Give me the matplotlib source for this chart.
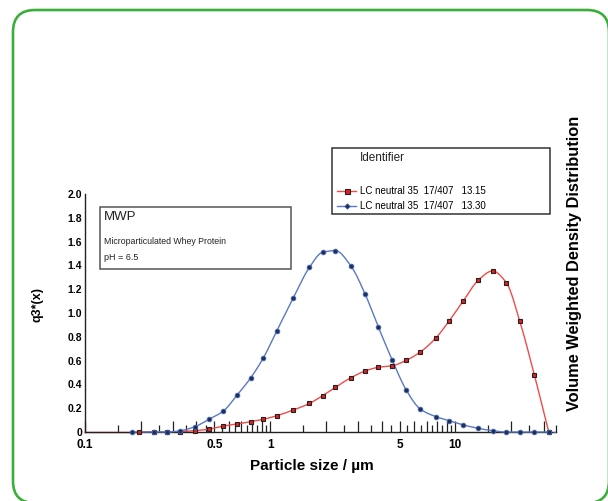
import numpy as np
import matplotlib
matplotlib.use("Agg")
import matplotlib.pyplot as plt
from matplotlib.patches import FancyBboxPatch, Rectangle
from matplotlib.lines import Line2D
from matplotlib.ticker import FixedLocator, NullFormatter
from matplotlib.transforms import IdentityTransform

plt.rcParams["font.family"] = ["Liberation Sans", "DejaVu Sans"]

# ---- data -----------------------------------------------------------------
# particle size classes (µm) and volume density q3*(x)
size_a = [0.196, 0.236, 0.279, 0.326, 0.393, 0.470, 0.559, 0.661, 0.786, 0.920,
          1.087, 1.336, 1.631, 1.918, 2.254, 2.731, 3.263, 3.845, 4.571, 5.433,
          6.47, 7.86, 9.28, 11.07, 13.31, 15.89, 18.87, 22.27, 26.74, 32.0]
q3_a = [0.0, 0.0, 0.0, 0.004, 0.011, 0.025, 0.05, 0.067, 0.087, 0.107,
        0.137, 0.185, 0.24, 0.305, 0.376, 0.456, 0.513, 0.544, 0.557, 0.602,
        0.672, 0.790, 0.935, 1.103, 1.275, 1.353, 1.255, 0.935, 0.479, 0.0]

size_b = [0.179, 0.236, 0.279, 0.326, 0.393, 0.470, 0.559, 0.661, 0.786, 0.920,
          1.087, 1.336, 1.631, 1.918, 2.254, 2.731, 3.263, 3.845, 4.571, 5.433,
          6.47, 7.86, 9.28, 11.07, 13.31, 15.89, 18.87, 22.27, 26.74, 32.0]
q3_b = [0.0, 0.0, 0.0, 0.01, 0.045, 0.109, 0.176, 0.308, 0.456, 0.624,
        0.851, 1.129, 1.384, 1.510, 1.524, 1.395, 1.157, 0.880, 0.603, 0.353,
        0.193, 0.129, 0.095, 0.059, 0.031, 0.011, 0.0, 0.0, 0.0, 0.0]

label_a = "LC neutral 35  17/407   13.15"
label_b = "LC neutral 35  17/407   13.30"

x_ticks = [0.1, 0.5, 1, 5, 10]
x_ticklabels = ["0.1", "0.5", "1", "5", "10"]
y_ticks = [0, 0.2, 0.4, 0.6, 0.8, 1.0, 1.2, 1.4, 1.6, 1.8, 2.0]
y_ticklabels = ["0", "0.2", "0.4", "0.6", "0.8", "1.0", "1.2", "1.4", "1.6", "1.8", "2.0"]
XMIN, XMAX = 0.1, 35.0

RED = "#f24a4a"
BLUE = "#5a78c4"
NAVY = "#1d2f5e"
GREEN = "#3cae3c"

W, H = 608, 501


def smooth_curve(xs, ys, n=12):
    """Monotone cubic (PCHIP) curve through the points, in log-x space."""
    lx = np.log10(np.asarray(xs, float))
    y = np.asarray(ys, float)
    h = np.diff(lx)
    d = np.diff(y) / h
    m = np.zeros_like(y)
    for i in range(1, len(y) - 1):
        if d[i - 1] * d[i] > 0:
            w1 = 2 * h[i] + h[i - 1]
            w2 = h[i] + 2 * h[i - 1]
            m[i] = (w1 + w2) / (w1 / d[i - 1] + w2 / d[i])
    m[0], m[-1] = d[0], d[-1]
    out_x, out_y = [], []
    for i in range(len(y) - 1):
        t = np.linspace(0, 1, n, endpoint=False)
        h00 = 2 * t**3 - 3 * t**2 + 1
        h10 = t**3 - 2 * t**2 + t
        h01 = -2 * t**3 + 3 * t**2
        h11 = t**3 - t**2
        out_x.append(lx[i] + t * h[i])
        out_y.append(h00 * y[i] + h10 * h[i] * m[i] + h01 * y[i + 1] + h11 * h[i] * m[i + 1])
    out_x.append([lx[-1]])
    out_y.append([y[-1]])
    return 10 ** np.concatenate(out_x), np.concatenate(out_y)


fig = plt.figure(figsize=(W / 100, H / 100), dpi=100)
ax = fig.add_axes([85 / W, 1 - 432 / H, (556 - 85) / W, (432 - 194) / H])
ax.set_xscale("log")
ax.set_xlim(XMIN, XMAX)
ax.set_ylim(0, 2.0)

# curves
cx, cy = smooth_curve(size_a, q3_a)
ax.plot([XMIN, size_a[0]], [0, 0], color=RED, lw=1.0, zorder=2, clip_on=False)
ax.plot(cx, cy, color=RED, lw=1.0, zorder=2, clip_on=False)
bx, by = smooth_curve(size_b, q3_b)
ax.plot(bx, by, color=BLUE, lw=1.0, zorder=3, clip_on=False)
ax.plot([size_b[-1], XMAX], [0, 0], color=BLUE, lw=1.0, ls=(0, (1.5, 1.5)),
        zorder=3, clip_on=False)

ax.plot(size_a, q3_a, ls="none", marker="s", ms=3.3, mfc="#e02020", mec="#222222",
        mew=0.8, zorder=4, clip_on=False)
ax.plot(size_b, q3_b, ls="none", marker="o", ms=3.4, mfc=NAVY, mec="#4a6ab0",
        mew=0.6, zorder=5, clip_on=False)

# spines
for s in ("top", "right"):
    ax.spines[s].set_visible(False)
ax.spines["left"].set_linewidth(1.0)
ax.spines["bottom"].set_linewidth(1.0)
ax.spines["left"].set_color("#222222")
ax.spines["bottom"].set_color("#222222")

# x ticks: whole multiples long, half steps short, all pointing up
whole = []
half = []
for dec in (0.1, 1, 10):
    for k in range(1, 10):
        v = k * dec
        if XMIN <= v <= XMAX:
            whole.append(v)
        v2 = (k + 0.5) * dec
        if XMIN <= v2 <= XMAX:
            half.append(v2)
ax.xaxis.set_major_locator(FixedLocator(whole))
ax.set_xticklabels([x_ticklabels[x_ticks.index(v)] if any(abs(v - t) < 1e-9 for t in x_ticks) else ""
                    for v in whole])
ax.xaxis.set_minor_locator(FixedLocator(half))
ax.xaxis.set_minor_formatter(NullFormatter())
ax.tick_params(axis="x", which="major", direction="in", length=8, width=0.9,
               color="#222222", pad=5, labelsize=8.5)
ax.tick_params(axis="x", which="minor", direction="in", length=5, width=0.9,
               color="#222222")
for lab in ax.get_xticklabels():
    lab.set_fontweight("bold")

ax.set_yticks(y_ticks)
ax.set_yticklabels(y_ticklabels)
ax.tick_params(axis="y", length=0, pad=2, labelsize=7.5)
for lab in ax.get_yticklabels():
    lab.set_fontweight("bold")


def fx(px):
    return px / W


def fy(py):
    return 1 - py / H


fig.text(fx(312), fy(466), "Particle size / µm", ha="center", va="center",
         fontsize=11, fontweight="bold")
fig.text(fx(37), fy(305), "q3*(x)", rotation=90, ha="center", va="center",
         fontsize=9, fontweight="bold")
fig.text(fx(575), fy(263), "Volume Weighted Density Distribution", rotation=90,
         ha="center", va="center", fontsize=11.8, fontweight="bold")

# sample description box
fig.patches.append(Rectangle((fx(100), fy(269)), (291 - 100) / W, (269 - 207) / H,
                             transform=fig.transFigure, fill=False, ec="#555555", lw=1.1))
fig.text(fx(104), fy(217), "MWP", fontsize=9.5, ha="left", va="center", color="#222222")
fig.text(fx(104), fy(242), "Microparticulated Whey Protein", fontsize=6.3, ha="left",
         va="center", color="#222222")
fig.text(fx(104), fy(258), "pH = 6.5", fontsize=6.5, ha="left", va="center", color="#222222")

# legend box
fig.patches.append(Rectangle((fx(332), fy(214)), (550 - 332) / W, (214 - 148) / H,
                             transform=fig.transFigure, fill=False, ec="#333333", lw=1.1))
fig.text(fx(360), fy(158), "Identifier", fontsize=8.5, ha="left", va="center", color="#222222")
handles = [
    Line2D([], [], color=RED, lw=1.0, marker="s", ms=3.6, mfc="#e02020", mec="#222222", mew=0.8),
    Line2D([], [], color=BLUE, lw=1.0, marker="D", ms=2.8, mfc=NAVY, mec="#4a6ab0", mew=0.6),
]
fig.legend(handles, [label_a, label_b], loc="upper left",
           bbox_to_anchor=(fx(337), fy(186)), frameon=False, fontsize=7,
           handlelength=2.0, handletextpad=0.35, labelspacing=0.55,
           borderpad=0, borderaxespad=0)

# rounded frame around the whole figure (pixel coordinates)
frame = FancyBboxPatch((13, -2), 609 - 13, 491 + 2,
                       boxstyle="round,pad=0,rounding_size=22",
                       transform=IdentityTransform(), fill=False,
                       ec=GREEN, lw=1.9)
fig.patches.append(frame)

fig.savefig("out.png", dpi=100)
